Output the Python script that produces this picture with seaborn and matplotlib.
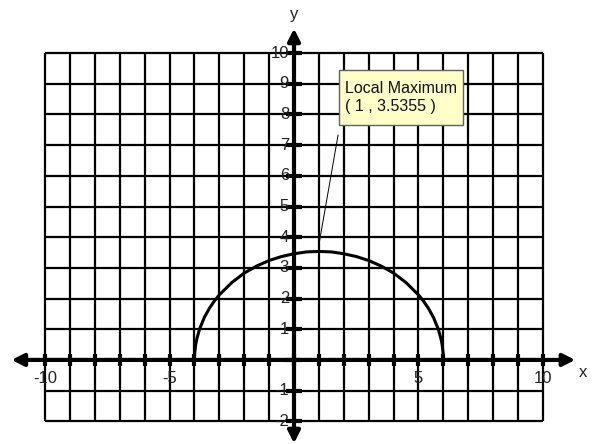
import matplotlib
matplotlib.use("Agg")
import matplotlib.pyplot as plt
from matplotlib.patches import Rectangle
import seaborn as sns
import pandas as pd

# curve points (upper half of the arch from -4 to 6)
curve_x = [-4.0, -3.99, -3.95, -3.9, -3.8, -3.6, -3.4, -3.2, -3.0, -2.5, -2.0, -1.5, -1.0, -0.5,
           0.0, 0.5, 1.0, 1.5, 2.0, 2.5, 3.0, 3.5, 4.0, 4.5, 5.0, 5.2, 5.4, 5.6, 5.8, 5.9, 5.95, 5.99, 6.0]
curve_y = [0.0, 0.22, 0.50, 0.70, 0.99, 1.39, 1.68, 1.92, 2.12, 2.52, 2.83, 3.06, 3.24, 3.37,
           3.46, 3.52, 3.5355, 3.52, 3.46, 3.37, 3.24, 3.06, 2.83, 2.52, 2.12, 1.92, 1.68, 1.39, 0.99, 0.70, 0.50, 0.22, 0.0]

grid_x = list(range(-10, 11))
grid_y = list(range(-2, 11))
x_labels = [-10, -5, 5, 10]
y_labels = [-2, -1, 1, 2, 3, 4, 5, 6, 7, 8, 9, 10]

max_x, max_y = 1, 3.5355

sns.set_style("white")
plt.rcParams["font.family"] = ["Liberation Sans", "DejaVu Sans"]

fig = plt.figure(figsize=(5.92, 4.44), dpi=100)
ax = fig.add_axes([0, 0, 1, 1])
ax.set_xlim(-11.81, 11.97)
ax.set_ylim(-2.74, 11.73)
ax.axis("off")

# grid
gx = [v for v in grid_x if v != 0]
gy = [v for v in grid_y if v != 0]
ax.vlines(gx, grid_y[0], grid_y[-1], color="black", lw=1.6, zorder=1)
ax.hlines(gy, grid_x[0], grid_x[-1], color="black", lw=1.6, zorder=1)

# axes with arrows
ax.annotate("", xy=(11.3, 0), xytext=(-11.35, 0),
            arrowprops=dict(arrowstyle="<|-|>", lw=3, color="black", mutation_scale=18,
                            shrinkA=0, shrinkB=0), zorder=3)
ax.annotate("", xy=(0, 10.8), xytext=(0, -2.72),
            arrowprops=dict(arrowstyle="<|-|>", lw=3, color="black", mutation_scale=18,
                            shrinkA=0, shrinkB=0), zorder=3)

# tick marks
ax.plot(grid_x, [0] * len(grid_x), ls="none", marker="|", ms=9, mew=3, color="black", zorder=3)
ax.plot([0] * len(grid_y), grid_y, ls="none", marker="_", ms=11, mew=3, color="black", zorder=3)

# tick labels
for v in x_labels:
    ax.text(v, -0.59, str(v), ha="center", va="center", fontsize=12, color="#222222")
for v in y_labels:
    ax.text(-0.2, v, str(v), ha="right", va="center", fontsize=12, color="#222222")
ax.text(0, 11.25, "y", ha="center", va="center", fontsize=12, color="#222222")
ax.text(11.6, -0.4, "x", ha="center", va="center", fontsize=12, color="#222222")

# the curve
df = pd.DataFrame({"x": curve_x, "y": curve_y})
sns.lineplot(data=df, x="x", y="y", color="black", lw=2.2, ax=ax, zorder=4)
ax.set_xlabel("")
ax.set_ylabel("")

# callout
ax.plot([max_x, 1.77], [max_y + 0.22, 7.33], color="black", lw=0.7, zorder=4)
ax.add_patch(Rectangle((1.81, 7.65), 4.98, 1.80, fc="#FFFFC8", ec="#606060", lw=1, zorder=5))
ax.text(2.05, 8.55, f"Local Maximum\n( {max_x} , {max_y} )", ha="left", va="center",
        fontsize=11.5, linespacing=1.3, color="#111111", zorder=6)

fig.savefig("out.png", dpi=100)
